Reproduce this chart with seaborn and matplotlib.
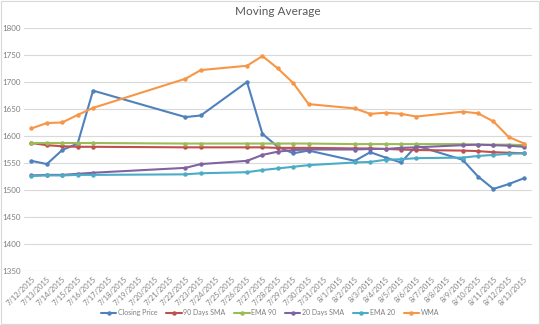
import matplotlib
matplotlib.use("Agg")
import matplotlib.pyplot as plt
import seaborn as sns
import pandas as pd
import numpy as np

# Trading days and indicator values
dates = ["2015-07-12", "2015-07-13", "2015-07-14", "2015-07-15", "2015-07-16",
         "2015-07-22", "2015-07-23", "2015-07-26", "2015-07-27", "2015-07-28",
         "2015-07-29", "2015-07-30", "2015-08-02", "2015-08-03", "2015-08-04",
         "2015-08-05", "2015-08-06", "2015-08-09", "2015-08-10", "2015-08-11",
         "2015-08-12", "2015-08-13"]
closing_price = [1554, 1548, 1574, 1586, 1684, 1635, 1638, 1700, 1604, 1580,
                 1568, 1573, 1554, 1570, 1560, 1551, 1582, 1556, 1525, 1502,
                 1511, 1522]
sma_90 = [1587, 1583, 1581, 1580, 1580, 1579, 1579, 1579, 1579, 1578, 1578,
          1578, 1577, 1577, 1576, 1575, 1574, 1573, 1572, 1570, 1569, 1568]
ema_90 = [1587, 1587, 1587, 1587, 1587, 1586, 1586, 1586, 1586, 1586, 1586,
          1586, 1585, 1585, 1585, 1585, 1585, 1585, 1584, 1584, 1584, 1583]
sma_20 = [1527, 1528, 1528, 1530, 1532, 1541, 1548, 1554, 1565, 1571, 1574,
          1575, 1575, 1576, 1576, 1578, 1579, 1583, 1584, 1583, 1582, 1580]
ema_20 = [1526, 1527, 1527, 1528, 1528, 1529, 1531, 1533, 1537, 1540, 1543,
          1546, 1551, 1552, 1556, 1557, 1559, 1560, 1563, 1565, 1567, 1568]
wma = [1614, 1624, 1625, 1639, 1652, 1706, 1722, 1730, 1748, 1725, 1698,
       1659, 1651, 1641, 1643, 1641, 1636, 1645, 1642, 1627, 1598, 1586]

series_names = ["Closing Price", "90 Days SMA", "EMA 90", "20 Days SMA", "EMA 20", "WMA"]
series_values = [closing_price, sma_90, ema_90, sma_20, ema_20, wma]
palette = ["#4F81BD", "#C0504D", "#9BBB59", "#8064A2", "#4BACC6", "#F79646"]

start = pd.Timestamp("2015-07-12")
end = pd.Timestamp("2015-08-13")
day_idx = [(pd.Timestamp(d) - start).days for d in dates]

df = pd.concat([
    pd.DataFrame({"day": day_idx, "value": vals, "series": name})
    for name, vals in zip(series_names, series_values)
], ignore_index=True)

sns.set_theme(style="white")
plt.rcParams["font.family"] = ["Lato", "DejaVu Sans"]

fig = plt.figure(figsize=(5.4, 3.25), dpi=100)
ax = fig.add_axes([0.044, 0.166, 0.941, 0.748])

sns.lineplot(data=df, x="day", y="value", hue="series", hue_order=series_names,
             palette=palette, marker="o", markersize=3.2, markeredgewidth=0,
             linewidth=1.5, ax=ax, legend=True)

n_days = (end - start).days
ax.set_xlim(-0.5, n_days + 0.5)
ax.set_ylim(1350, 1800)
ax.set_yticks(np.arange(1350, 1801, 50))
ax.yaxis.grid(True, color="#D9D9D9", linewidth=0.8)
ax.xaxis.grid(False)
for s in ax.spines.values():
    s.set_visible(False)
ax.axhline(1350, color="#D9D9D9", linewidth=0.8, zorder=0)

all_days = pd.date_range(start, end, freq="D")
ax.set_xticks(range(len(all_days)))
ax.set_xticklabels([f"{d.month}/{d.day}/{d.year}" for d in all_days],
                   rotation=45, ha="right", rotation_mode="anchor",
                   fontsize=5.4, color="#7F7F7F")
ax.tick_params(axis="y", labelsize=5.8, labelcolor="#7F7F7F", length=0, pad=2)
ax.tick_params(axis="x", length=0, pad=3)
ax.set_xlabel("")
ax.set_ylabel("")

ax.set_title("Moving Average", fontsize=8.5, color="#595959", pad=9)

handles, labels = ax.get_legend_handles_labels()
ax.legend(handles, labels, loc="center", bbox_to_anchor=(0.5, 0.037),
          bbox_transform=fig.transFigure,
          ncol=6, frameon=False, fontsize=5.0, handlelength=2.2,
          handletextpad=0.2, columnspacing=1.3, labelcolor="#7F7F7F")

fig.patches.append(plt.Rectangle((0.002, 0.003), 0.996, 0.994,
                                 transform=fig.transFigure, fill=False,
                                 edgecolor="#D9D9D9", linewidth=0.8))

fig.savefig("out.png", dpi=100, facecolor="white")
